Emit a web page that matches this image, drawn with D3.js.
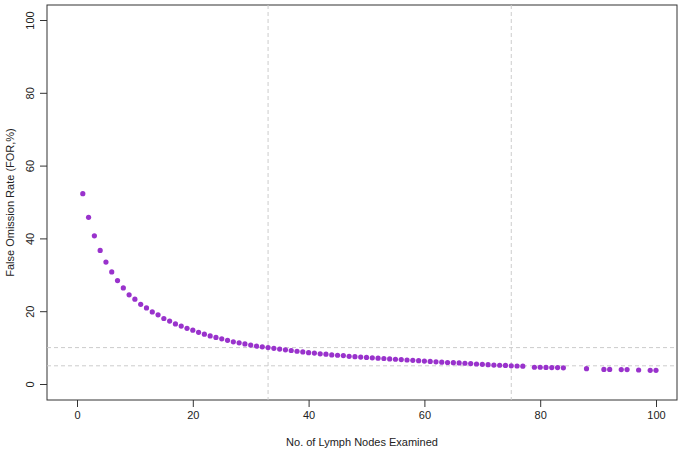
<!DOCTYPE html>
<html>
<head>
<meta charset="utf-8">
<script src="https://cdn.jsdelivr.net/npm/d3@7"></script>
<style>
  body { margin: 0; background: #fff; }
  text { font-family: "Liberation Sans", Arial, sans-serif; fill: #222; }
</style>
</head>
<body>
<div id="chart"></div>
<script>
// lymph nodes examined
const nodes = d3.range(1, 78).concat([79, 80, 81, 82, 83, 84, 88, 91, 92, 94, 95, 97, 99, 100]);
// false omission rate (%)
const forRate = [
  52.3, 45.8, 40.7, 36.7, 33.5, 30.8, 28.4, 26.4, 24.5, 23.3,
  21.9, 20.9, 19.8, 19.0, 18.0, 17.3, 16.5, 15.9, 15.3, 14.8,
  14.2, 13.7, 13.2, 12.8, 12.4, 12.0, 11.6, 11.3, 11.0, 10.7,
  10.4, 10.2, 10.0, 9.8, 9.6, 9.4, 9.2, 9.0, 8.8, 8.6,
  8.5, 8.3, 8.2, 8.0, 7.9, 7.8, 7.6, 7.5, 7.4, 7.3,
  7.2, 7.1, 7.0, 6.9, 6.8, 6.7, 6.6, 6.5, 6.4, 6.3,
  6.2, 6.1, 6.0, 5.9, 5.85, 5.8, 5.7, 5.6, 5.5, 5.4,
  5.3, 5.2, 5.15, 5.1, 5.0, 4.95, 4.9,
  4.6, 4.6, 4.55, 4.5, 4.5, 4.45, 4.2, 4.0, 4.0, 3.95, 3.95, 3.85, 3.75, 3.75
];
const xTicks = [0, 20, 40, 60, 80, 100];
const yTicks = [0, 20, 40, 60, 80, 100];
const vLines = [33, 75];
const hLines = [5, 10];

const width = 685, height = 454;
const box = { left: 47, right: 677, top: 5, bottom: 400 };

const svg = d3.select("#chart").append("svg")
  .attr("width", width).attr("height", height);

const x = d3.scaleLinear().domain([0, 100]).range([77, 656]);
const y = d3.scaleLinear().domain([0, 100]).range([384, 20]);

svg.append("rect")
  .attr("x", box.left).attr("y", box.top)
  .attr("width", box.right - box.left).attr("height", box.bottom - box.top)
  .attr("fill", "none").attr("stroke", "#333").attr("stroke-width", 1);

const xAxis = svg.append("g")
  .attr("transform", `translate(0,${box.bottom})`)
  .call(d3.axisBottom(x).tickValues(xTicks).tickSize(7).tickPadding(4));
const yAxis = svg.append("g")
  .attr("transform", `translate(${box.left},0)`)
  .call(d3.axisLeft(y).tickValues(yTicks).tickSize(7).tickPadding(3));
[xAxis, yAxis].forEach(a => {
  a.select(".domain").remove();
  a.selectAll("line").attr("stroke", "#333");
  a.selectAll("text").style("font-size", "11px").attr("fill", "#222");
});
yAxis.selectAll(".tick text")
  .attr("transform", function() {
    return "rotate(-90)";
  })
  .attr("x", 0).attr("y", -13)
  .attr("text-anchor", "middle").attr("dy", 0);

svg.append("g").selectAll("line").data(vLines).join("line")
  .attr("x1", d => x(d)).attr("x2", d => x(d))
  .attr("y1", box.top).attr("y2", box.bottom)
  .attr("stroke", "#ccc").attr("stroke-dasharray", "4,3");
svg.append("g").selectAll("line").data(hLines).join("line")
  .attr("x1", box.left).attr("x2", box.right)
  .attr("y1", d => y(d)).attr("y2", d => y(d))
  .attr("stroke", "#ccc").attr("stroke-dasharray", "4,3");

svg.append("g").selectAll("circle").data(nodes).join("circle")
  .attr("cx", d => x(d))
  .attr("cy", (d, i) => y(forRate[i]))
  .attr("r", 2.6)
  .attr("fill", "#9932CC");

svg.append("text")
  .attr("x", (box.left + box.right) / 2).attr("y", 446)
  .attr("text-anchor", "middle").style("font-size", "11px")
  .text("No. of Lymph Nodes Examined");
svg.append("text")
  .attr("transform", `translate(14,${(box.top + box.bottom) / 2}) rotate(-90)`)
  .attr("text-anchor", "middle").style("font-size", "11px")
  .text("False Omission Rate (FOR,%)");
</script>
</body>
</html>
